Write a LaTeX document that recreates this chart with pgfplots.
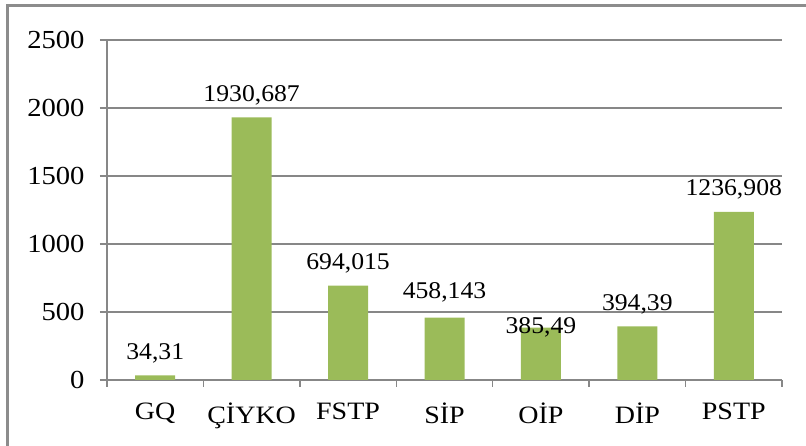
\documentclass[border=0pt]{standalone}
\usepackage{fontspec}
\setmainfont[FakeStretch=1.07]{Liberation Serif}
\newfontfamily\tickfont[FakeStretch=1.1]{Liberation Serif}
\newfontfamily\catfont[FakeStretch=1.12]{Liberation Serif}
\usepackage{pgfplots}
\usepackage{pgfplotstable}
\pgfplotsset{compat=1.18}
\definecolor{bargreen}{HTML}{9BBB59}
\definecolor{gridgray}{HTML}{878787}
\definecolor{framegray}{HTML}{8C8C8C}

\pgfplotstableread{
x y label dy
0 34.31 34,31 0
1 1930.687 1930,687 0
2 694.015 694,015 0
3 458.143 458,143 3
4 385.49 385,49 -22
5 394.39 394,39 0
6 1236.908 1236,908 0
}\datatable

\begin{document}
\begin{tikzpicture}[x=1pt,y=1pt]
\useasboundingbox (0,0) rectangle (806,446);
\draw[framegray, line width=3pt] (7,-2) -- (7,440) -- (808,440);
\begin{axis}[at={(107pt,66pt)}, anchor=south west, scale only axis,
  width=675pt, height=340pt,
  xmin=-0.5, xmax=6.5, ymin=0, ymax=2500,
  ytick={0,500,...,2500},
  xtick={-0.5,0.5,...,6.5}, xticklabels={},
  extra x ticks={0,1,2,3,4,5,6},
  extra x tick labels={GQ,ÇİYKO,FSTP,SİP,OİP,DİP,PSTP},
  extra x tick style={major tick length=0pt},
  axis x line*=bottom, axis y line*=left,
  axis line style={gridgray, line width=1.3pt, -},
  tick align=outside, major tick length=7pt,
  tick style={gridgray, line width=1.3pt},
  ymajorgrids, grid style={gridgray, line width=1.3pt},
  ticklabel style={text=black},
  yticklabel style={font=\tickfont\fontsize{26}{30}\selectfont, xshift=-12pt},
  xticklabel style={font=\catfont\fontsize{25}{29}\selectfont, yshift=-19pt},
  /pgf/number format/assume math mode=true,
  /pgf/number format/1000 sep={},
  scaled ticks=false,
  ybar, bar width=40pt, bar shift=0pt,
  nodes near coords, point meta=explicit symbolic,
  visualization depends on={\thisrow{dy} \as \dy},
  nodes near coords style={font=\fontsize{24}{28}\selectfont, text=black, anchor=south, yshift={(9+\dy)*1pt}},
]
\addplot[fill=bargreen, draw=none] table[x=x,y=y,meta=label]{\datatable};
\end{axis}
\end{tikzpicture}
\end{document}
